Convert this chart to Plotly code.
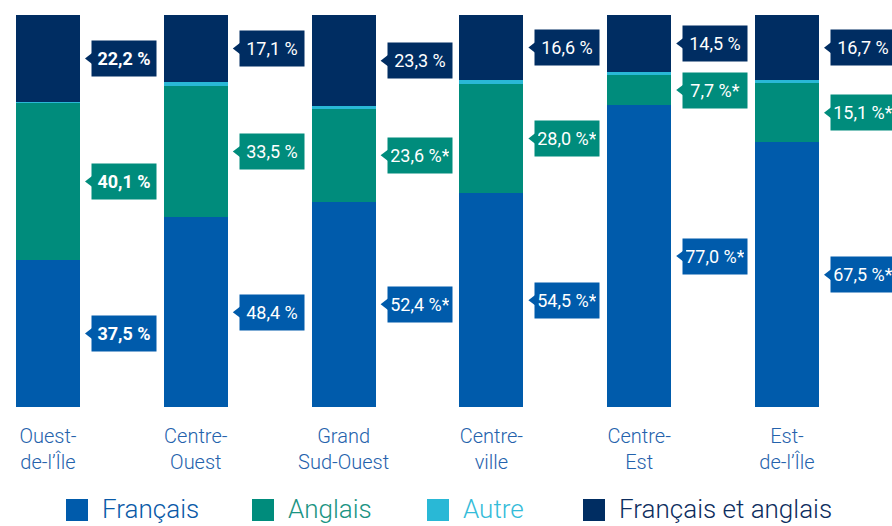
import plotly.graph_objects as go

# Langue parlée le plus souvent à la maison, par secteur (%)
secteurs = ["Ouest-<br>de-l’Île", "Centre-<br>Ouest", "Grand<br>Sud-Ouest",
            "Centre-<br>ville", "Centre-<br>Est", "Est-<br>de-l’Île"]
francais = [37.5, 48.4, 52.4, 54.5, 77.0, 67.5]
anglais = [40.1, 33.5, 23.6, 28.0, 7.7, 15.1]
autre = [0.2, 1.0, 0.7, 0.9, 0.8, 0.7]
fr_en = [22.2, 17.1, 23.3, 16.6, 14.5, 16.7]

# écart statistiquement significatif (astérisque)
sig_fr = [False, False, True, True, True, True]
sig_an = [False, False, True, True, True, True]
sig_fe = [False, False, False, False, False, False]
gras = [True, False, False, False, False, False]

noms = ["Français", "Anglais", "Autre", "Français et anglais"]
couleurs = ["#005bab", "#008c7c", "#29b8d6", "#002d62"]
couleurs_legende = ["#0a5aa8", "#1b9483", "#35bcd9", "#0d2d5e"]

W, H = 892, 526
M_TOP, M_BOT = 15, 119
PAS = 147.8          # pixels par catégorie
BAR_W = 64 / PAS     # largeur des barres en unités d'axe
X_MIN = -48 / PAS
X_MAX = X_MIN + W / PAS
PLOT_H = H - M_TOP - M_BOT

POLICE = "Roboto, Liberation Sans, Arial"

x = list(range(len(secteurs)))

fig = go.Figure()
for nom, vals, c in zip(noms, [francais, anglais, autre, fr_en], couleurs):
    fig.add_trace(go.Bar(x=x, y=vals, name=nom, marker=dict(color=c, line=dict(width=0)),
                         width=BAR_W, showlegend=False, hoverinfo="skip"))


def fmt(v, star):
    s = f"{v:.1f}".replace(".", ",") + " %"
    return s + ("*" if star else "")


# Étiquettes de valeur : boîte colorée avec pointe vers la barre
decal = BAR_W / 2 + 11 / PAS
tri_x, tri_y, tri_c = [], [], []
for i in x:
    bas = 0.0
    segments = [(francais[i], sig_fr[i], couleurs[0]),
                (anglais[i], sig_an[i], couleurs[1]),
                (autre[i], None, couleurs[2]),
                (fr_en[i], sig_fe[i], couleurs[3])]
    for v, star, c in segments:
        milieu = bas + v / 2
        bas += v
        if star is None:
            continue
        txt = fmt(v, star)
        if gras[i]:
            txt = f"<b>{txt}</b>"
        fig.add_annotation(x=i + decal, y=milieu, xref="x", yref="y", text=txt,
                           showarrow=False, xanchor="left", yanchor="middle",
                           bgcolor=c, width=58, height=29, borderpad=3, align="center",
                           font=dict(family=POLICE, size=18, color="white"))
        tri_x.append(i + decal)
        tri_y.append(milieu)
        tri_c.append(c)

fig.add_trace(go.Scatter(x=tri_x, y=tri_y, mode="markers", showlegend=False, hoverinfo="skip",
                         cliponaxis=False,
                         marker=dict(symbol="triangle-left", size=12, color=tri_c, line=dict(width=0))))


# Légende dessinée à la main sous le graphique
def py(pix):
    return (H - M_BOT - pix) / PLOT_H


leg_carre_x = [66, 252, 427, 583]
leg_texte_x = [100, 286, 461, 617]
for nom, c, ct, xc, xt in zip(noms, couleurs, couleurs_legende, leg_carre_x, leg_texte_x):
    fig.add_shape(type="rect", xref="paper", yref="paper",
                  x0=xc / W, x1=(xc + 22) / W, y0=py(521), y1=py(499),
                  fillcolor=c, line=dict(width=0))
    fig.add_annotation(x=xt / W, y=py(509), xref="paper", yref="paper", text=nom,
                       showarrow=False, xanchor="left", yanchor="middle",
                       font=dict(family=POLICE, size=26, weight=300, color=ct))

fig.update_layout(
    width=W, height=H,
    margin=dict(l=0, r=0, t=M_TOP, b=M_BOT),
    barmode="stack", bargap=0,
    plot_bgcolor="white", paper_bgcolor="white",
    xaxis=dict(range=[X_MIN, X_MAX], tickmode="array", tickvals=x, ticktext=secteurs,
               showgrid=False, zeroline=False, showline=False, ticks="",
               ticklabelstandoff=15,
               tickfont=dict(family=POLICE, size=20, weight=300, color="#2462ac")),
    yaxis=dict(range=[0, 100], visible=False, showgrid=False, zeroline=False),
)

fig.write_html("out.html")
